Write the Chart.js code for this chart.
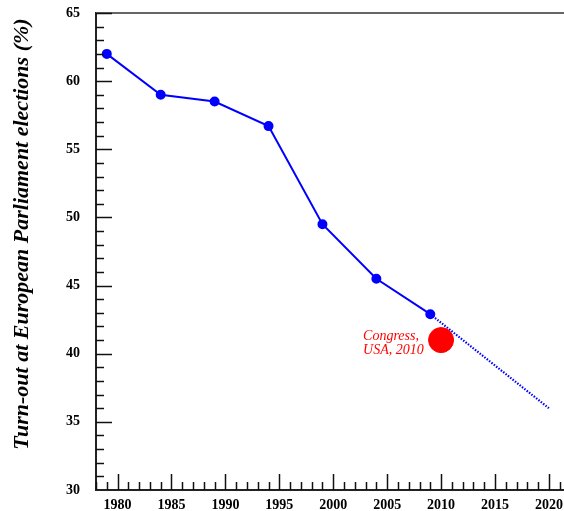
<!DOCTYPE html>
<html>
<head>
<meta charset="utf-8">
<script src="https://cdn.jsdelivr.net/npm/chart.js@4/dist/chart.umd.min.js"></script>
<style>
  html, body { margin: 0; padding: 0; background: #fff; }
  #wrap { width: 564px; height: 511px; position: relative; }
</style>
</head>
<body>
<div id="wrap"><canvas id="c" width="564" height="511"></canvas></div>
<script>
const electionYears = [1979, 1984, 1989, 1994, 1999, 2004, 2009];
const turnout = [62.0, 59.0, 58.5, 56.7, 49.5, 45.5, 42.9];
const trendYears = [2009, 2020];
const trendValues = [42.9, 36.0];
const congressYear = [2010];
const congressValue = [41.0];
const congressLabel = ["Congress,", "USA, 2010"];
const xTickLabels = [1980, 1985, 1990, 1995, 2000, 2005, 2010, 2015, 2020];
const yTickLabels = [30, 35, 40, 45, 50, 55, 60, 65];
const yTitle = "Turn-out at European Parliament elections (%)";

const serif = '"Liberation Serif", "DejaVu Serif", serif';

const toXY = (xs, ys) => xs.map((x, i) => ({ x: x, y: ys[i] }));

const zeroPad = s => { s.paddingTop = 0; s.paddingBottom = 0; s.paddingLeft = 0; s.paddingRight = 0; };

const frameTicks = {
  id: 'frameTicks',
  afterDraw(chart) {
    const ctx = chart.ctx;
    const xs = chart.scales.x, ys = chart.scales.y;
    const a = chart.chartArea;
    ctx.save();
    ctx.strokeStyle = '#666';
    ctx.lineWidth = 2;
    ctx.beginPath();
    ctx.moveTo(a.left, a.top);
    ctx.lineTo(a.right, a.top);
    ctx.stroke();
    ctx.strokeStyle = '#111';
    ctx.lineWidth = 1.5;
    for (let v = Math.ceil(xs.min); v <= Math.floor(xs.max); v++) {
      const px = Math.round(xs.getPixelForValue(v)) + 0.5;
      const len = v % 5 === 0 ? 16 : 8;
      ctx.beginPath();
      ctx.moveTo(px, a.bottom);
      ctx.lineTo(px, a.bottom - len);
      ctx.stroke();
    }
    for (let v = ys.min + 1; v <= ys.max; v++) {
      const py = Math.round(ys.getPixelForValue(v)) + 0.5;
      const len = v % 5 === 0 ? 16 : 8;
      ctx.beginPath();
      ctx.moveTo(a.left, py);
      ctx.lineTo(a.left + len, py);
      ctx.stroke();
    }
    const p = { x: xs.getPixelForValue(congressYear[0]), y: ys.getPixelForValue(congressValue[0]) };
    ctx.fillStyle = '#ff0000';
    ctx.font = 'italic 14px ' + serif;
    ctx.textAlign = 'left';
    ctx.textBaseline = 'alphabetic';
    ctx.fillText(congressLabel[0], p.x - 78, p.y);
    ctx.fillText(congressLabel[1], p.x - 78, p.y + 14);
    ctx.fillStyle = '#000';
    ctx.font = 'bold italic 22px ' + serif;
    ctx.textAlign = 'center';
    ctx.textBaseline = 'middle';
    ctx.translate(22, 234);
    ctx.rotate(-Math.PI / 2);
    ctx.fillText(yTitle, 0, 0);
    ctx.restore();
  }
};

new Chart(document.getElementById('c'), {
  type: 'scatter',
  data: {
    datasets: [
      {
        data: toXY(electionYears, turnout),
        showLine: true,
        borderColor: '#0000ff',
        backgroundColor: '#0000ff',
        borderWidth: 2,
        pointRadius: 4,
        pointHoverRadius: 4,
        order: 2
      },
      {
        data: toXY(trendYears, trendValues),
        showLine: true,
        borderColor: '#0000ff',
        borderWidth: 2.2,
        borderDash: [1.5, 1.5],
        pointRadius: 0,
        order: 3
      },
      {
        data: toXY(congressYear, congressValue),
        showLine: false,
        backgroundColor: '#ff0000',
        borderColor: '#ff0000',
        pointRadius: 12.5,
        pointHoverRadius: 12.5,
        order: 1
      }
    ]
  },
  options: {
    responsive: false,
    animation: false,
    devicePixelRatio: 1,
    layout: { autoPadding: false, padding: { top: 13, left: 0, right: 0, bottom: 0 } },
    plugins: { legend: { display: false }, tooltip: { enabled: false } },
    scales: {
      x: {
        type: 'linear',
        min: 1978,
        max: 2021.4,
        afterBuildTicks: s => { s.ticks = xTickLabels.map(v => ({ value: v })); },
        afterFit: s => { s.height = 21; zeroPad(s); },
        grid: { display: true, drawOnChartArea: false, drawTicks: false },
        border: { display: true, color: '#222', width: 2 },
        ticks: {
          padding: 7,
          maxRotation: 0,
          autoSkip: false,
          color: '#000',
          font: { family: serif, size: 14, weight: 'bold' },
          callback: v => String(v)
        }
      },
      y: {
        type: 'linear',
        min: 30,
        max: 65,
        afterBuildTicks: s => { s.ticks = yTickLabels.map(v => ({ value: v })); },
        afterFit: s => { s.width = 96; zeroPad(s); },
        grid: { display: true, drawOnChartArea: false, drawTicks: false },
        border: { display: true, color: '#222', width: 2 },
        ticks: {
          padding: 16,
          autoSkip: false,
          color: '#000',
          font: { family: serif, size: 14, weight: 'bold' },
          callback: v => String(v)
        }
      }
    }
  },
  plugins: [frameTicks]
});
</script>
</body>
</html>
